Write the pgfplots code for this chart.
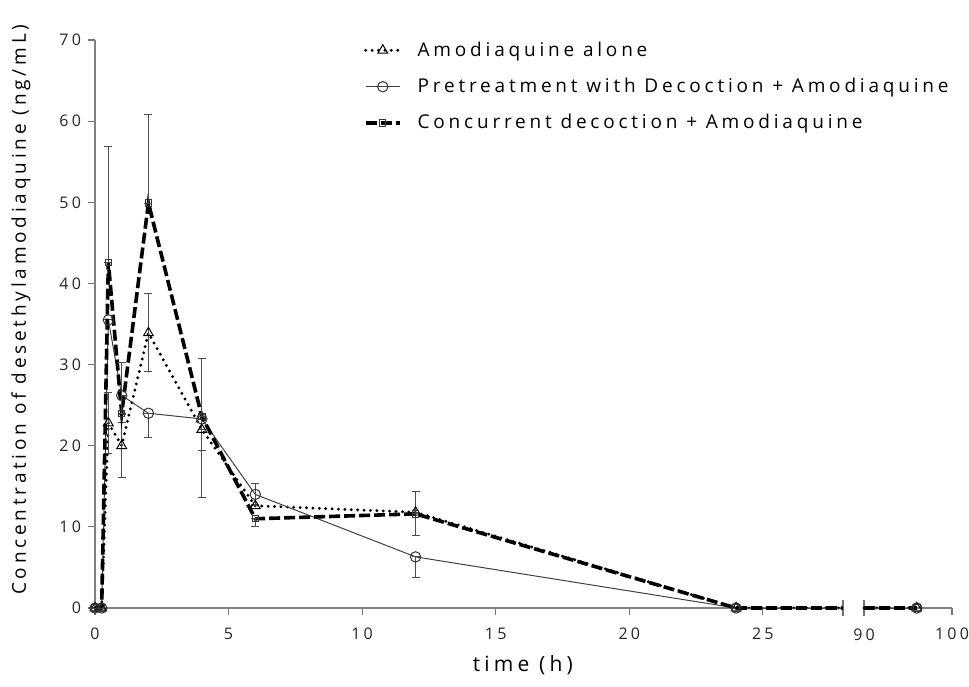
\documentclass[border=0pt]{standalone}
\usepackage{fontspec}
\setmainfont{Open Sans}[LetterSpace=20]
\usepackage{pgfplots}
\usepackage{pgfplotstable}
\pgfplotsset{compat=1.18}
\usetikzlibrary{calc}

% time (h), mean, error up, error down
\pgfplotstableread{
t    c     ep    em
0    0     0     0
0.25 0     0     0
0.5  22.8  3.7   3.7
1    20.0  3.9   3.9
2    33.9  4.8   4.8
4    22.0  0     8.4
6    12.6  0     0
12   11.8  2.5   0
24   0     0     0
96   0     0     0
}\alone
\pgfplotstableread{
t    c     ep    em
0    0     0     0
0.25 0     0     0
0.5  35.5  0     0
1    26.2  0     3.3
2    24.0  0     3.0
4    23.3  0     3.9
6    14.0  1.3   1.3
12   6.3   0     2.6
24   0     0     0
96   0     0     0
}\pretreat
\pgfplotstableread{
t    c     ep    em
0    0     0     0
0.25 0     0     0
0.5  42.6  14.3  0
1    24.0  6.2   0
2    49.9  10.9  0
4    23.6  7.1   0
6    11.0  0     1.0
12   11.6  0     2.7
24   0     0     0
96   0     0     0
}\concur

\pgfplotsset{
  aloneline/.style={black, line width=1.6pt, dash pattern=on 0pt off 3.2pt, line cap=round,
    mark=triangle, mark size=2.8pt, mark options={solid, line cap=butt, fill=white, draw=black, line width=0.5pt}},
  preline/.style={black!75, line width=0.5pt,
    mark=o, mark size=2.6pt, mark options={solid, fill=white, draw=black!80, line width=0.5pt}},
  concline/.style={black, line width=1.8pt, dash pattern=on 5.5pt off 2pt,
    mark=square, mark size=1.6pt, mark options={solid, fill=white, draw=black!80, line width=0.5pt}},
  errs/.style={error bars/.cd, y dir=both, y explicit,
    error bar style={line width=0.5pt, black!70, solid},
    error mark options={rotate=90, line width=0.5pt, black!70, mark size=2pt, solid}},
  brk/.style={scale only axis, height=284pt, ymin=0, ymax=70,
    axis line style={-, draw=black!50, line width=1.2pt},
    tick style={draw=black!55, line width=0.6pt},
    tick align=outside, major tick length=3.5pt,
    ticklabel style={font=\fontsize{8}{9}\selectfont, text=black!85},
    xticklabel style={yshift=-3pt},
    /pgf/number format/assume math mode=true},
}

\begin{document}
\begin{tikzpicture}
\begin{axis}[brk, name=a1, at={(0,0)}, anchor=south west,
  width=374pt, xmin=0, xmax=28,
  axis x line*=bottom, axis y line*=left,
  xtick={0,5,...,25}, ytick={0,10,...,70},
  extra x ticks={28}, extra x tick labels={},
  extra x tick style={tick align=center, major tick length=8pt},
  clip=false,
  xlabel={time (h)},
  ylabel={Concentration of desethylamodiaquine (ng/mL)},
  every axis x label/.style={at={(axis description cs:0.572,-0.10)}, anchor=center,
    font=\fontsize{10.5}{12}\selectfont},
  every axis y label/.style={at={(axis description cs:-0.099,0.525)}, anchor=center, rotate=90,
    font=\fontsize{9.5}{11}\selectfont},
  legend style={at={(axis description cs:0.359,1.005)}, anchor=north west, draw=none, fill=none,
    font=\fontsize{9.5}{11}\selectfont, row sep=5.5pt, inner sep=0pt,
    /tikz/every odd column/.append style={column sep=6pt}},
  legend cell align=left,
]
\addplot[aloneline, errs] table[x=t, y=c, y error plus=ep, y error minus=em, skip coords between index={9}{10}] {\alone};
\addplot[preline, errs] table[x=t, y=c, y error plus=ep, y error minus=em, skip coords between index={9}{10}] {\pretreat};
\addplot[concline, errs] table[x=t, y=c, y error plus=ep, y error minus=em, skip coords between index={9}{10}] {\concur};
\legend{Amodiaquine alone, Pretreatment with Decoction + Amodiaquine, Concurrent decoction + Amodiaquine}
% segments running into the axis break
\addplot[aloneline, no markers, forget plot, restrict x to domain*=0:28] table[x=t, y=c, skip coords between index={0}{8}] {\alone};
\addplot[preline, no markers, forget plot, restrict x to domain*=0:28] table[x=t, y=c, skip coords between index={0}{8}] {\pretreat};
\addplot[concline, no markers, forget plot, restrict x to domain*=0:28] table[x=t, y=c, skip coords between index={0}{8}] {\concur};
\end{axis}
\begin{axis}[brk, at={($(a1.south east)+(10.5pt,0)$)}, anchor=south west,
  width=44pt, xmin=90, xmax=100,
  axis x line*=bottom, axis y line=none,
  xtick={100}, ytick=\empty,
  extra x ticks={90},
  extra x tick style={tick align=center, major tick length=8pt},
  clip=false,
]
\addplot[aloneline, mark indices={2}, restrict x to domain*=90:100] table[x=t, y=c, skip coords between index={0}{8}] {\alone};
\addplot[preline, mark indices={2}, restrict x to domain*=90:100] table[x=t, y=c, skip coords between index={0}{8}] {\pretreat};
\addplot[concline, mark indices={2}, restrict x to domain*=90:100] table[x=t, y=c, skip coords between index={0}{8}] {\concur};
\end{axis}
\pgfresetboundingbox
\path[use as bounding box] (-47.5pt,-39pt) rectangle (437pt,304pt);
\end{tikzpicture}
\end{document}
